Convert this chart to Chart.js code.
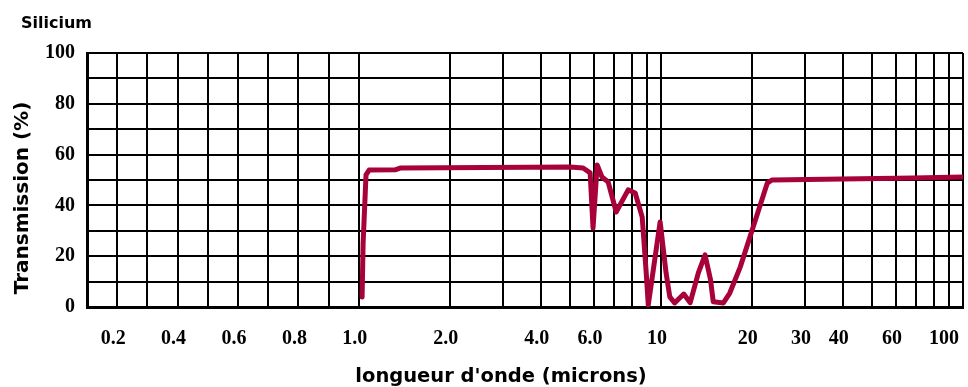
<!DOCTYPE html>
<html>
<head>
<meta charset="utf-8">
<script src="https://cdn.jsdelivr.net/npm/chart.js@4/dist/chart.umd.min.js"></script>
<style>
  html, body { margin: 0; padding: 0; background: #fff; }
  #wrap { width: 968px; height: 387px; }
</style>
</head>
<body>
<div id="wrap"><canvas id="siChart"></canvas></div>
<script>
// Silicon transmission, wavelength in microns
const wavelengths = [1.025, 1.033, 1.056, 1.081, 1.318, 1.369, 5.005, 5.525, 5.83, 5.96, 6.15,
    6.38, 6.69, 7.11, 7.79, 8.22, 8.67, 8.94, 9.08, 9.36, 9.94, 10.4, 10.7, 11.1, 11.9, 12.5,
    13.3, 14.0, 14.6, 14.9, 16.1, 16.9, 18.3, 20.2, 22.5, 23.3, 68.4, 100];
const transmission = [3.9, 25.2, 52, 53.9, 54, 54.7, 55.1, 54.7, 52.8, 31.1, 55.9,
    51.2, 49.2, 37.4, 46.1, 44.9, 35.4, 13.4, 0.8, 11.8, 33.5, 13.4, 4, 1.6, 5.1, 1.7,
    13.4, 20.5, 10.6, 2.1, 1.6, 5.5, 15.7, 31.5, 48.8, 50, 50.8, 51.2];

// vertical grid lines and the labelled ones
const gridWavelengths = [0.1, 0.2, 0.3, 0.4, 0.5, 0.6, 0.7, 0.8, 0.9, 1.0,
    2, 3, 4, 5, 6, 7, 8, 9, 10, 20, 30, 40, 50, 60, 70, 80, 90, 100];
const tickWavelengths = [0.2, 0.4, 0.6, 0.8, 1.0, 2, 4, 6, 10, 20, 30, 40, 60, 100];
const tickLabels = ['0.2', '0.4', '0.6', '0.8', '1.0', '2.0', '4.0', '6.0', '10', '20', '30', '40', '60', '100'];
const yLabelValues = [0, 20, 40, 60, 80, 100];

// axis is linear below 1 micron, logarithmic above
function axisPos(w) {
    return w <= 1 ? w * 10 : 10 + 10 * Math.log10(w);
}

const tickFont = { family: '"Liberation Serif", "Times New Roman", serif', weight: 'bold', size: 20 };

const axisText = {
    id: 'axisText',
    afterDraw(chart) {
        const ctx = chart.ctx;
        ctx.save();
        ctx.fillStyle = '#000';
        ctx.textBaseline = 'alphabetic';
        ctx.font = 'bold 16px "DejaVu Sans"';
        ctx.textAlign = 'left';
        ctx.fillText('Silicium', 21, 28);
        ctx.font = 'bold 19.5px "DejaVu Sans"';
        ctx.textAlign = 'center';
        ctx.fillText("longueur d'onde (microns)", 501, 382);
        ctx.translate(28, 198);
        ctx.rotate(-Math.PI / 2);
        ctx.font = 'bold 20px "DejaVu Sans"';
        ctx.fillText('Transmission (%)', 0, 0);
        ctx.restore();
    }
};

let ctx = document.getElementById('siChart').getContext('2d');
let siChart = new Chart(ctx, {
    type: 'line',
    data: {
        datasets: [{
            data: wavelengths.map((w, i) => ({ x: axisPos(w), y: transmission[i] })),
            borderColor: '#a8023a',
            borderWidth: 5,
            pointRadius: 0,
            tension: 0,
            borderJoinStyle: 'round',
            borderCapStyle: 'round'
        }]
    },
    options: {
        responsive: true,
        maintainAspectRatio: false,
        animation: false,
        layout: { padding: { top: 53, right: 5, left: 0, bottom: 0 } },
        plugins: {
            legend: { display: false },
            tooltip: { enabled: false },
            title: { display: false }
        },
        scales: {
            x: {
                type: 'linear',
                min: axisPos(0.1),
                max: axisPos(100),
                afterBuildTicks(scale) {
                    scale.ticks = gridWavelengths.map(w => ({ value: axisPos(w) }));
                },
                afterFit(scale) {
                    scale.height = 80;
                    scale.paddingLeft = 0;
                    scale.paddingRight = 0;
                },
                grid: { color: '#000', lineWidth: 2, drawTicks: false },
                border: { color: '#000', width: 3 },
                ticks: {
                    autoSkip: false,
                    maxRotation: 0,
                    align: 'inner',
                    padding: 20,
                    labelOffset: -4,
                    color: '#000',
                    font: tickFont,
                    callback(value) {
                        const i = tickWavelengths.findIndex(w => Math.abs(axisPos(w) - value) < 1e-6);
                        return i < 0 ? '' : tickLabels[i];
                    }
                }
            },
            y: {
                min: 0,
                max: 100,
                afterFit(scale) {
                    scale.width = 87;
                    scale.paddingTop = 0;
                    scale.paddingBottom = 0;
                },
                grid: { color: '#000', lineWidth: 2, drawTicks: false },
                border: { color: '#000', width: 3 },
                ticks: {
                    stepSize: 10,
                    autoSkip: false,
                    padding: 12,
                    color: '#000',
                    font: tickFont,
                    callback: v => yLabelValues.includes(v) ? String(v) : ''
                }
            }
        }
    },
    plugins: [axisText]
});
</script>
</body>
</html>
